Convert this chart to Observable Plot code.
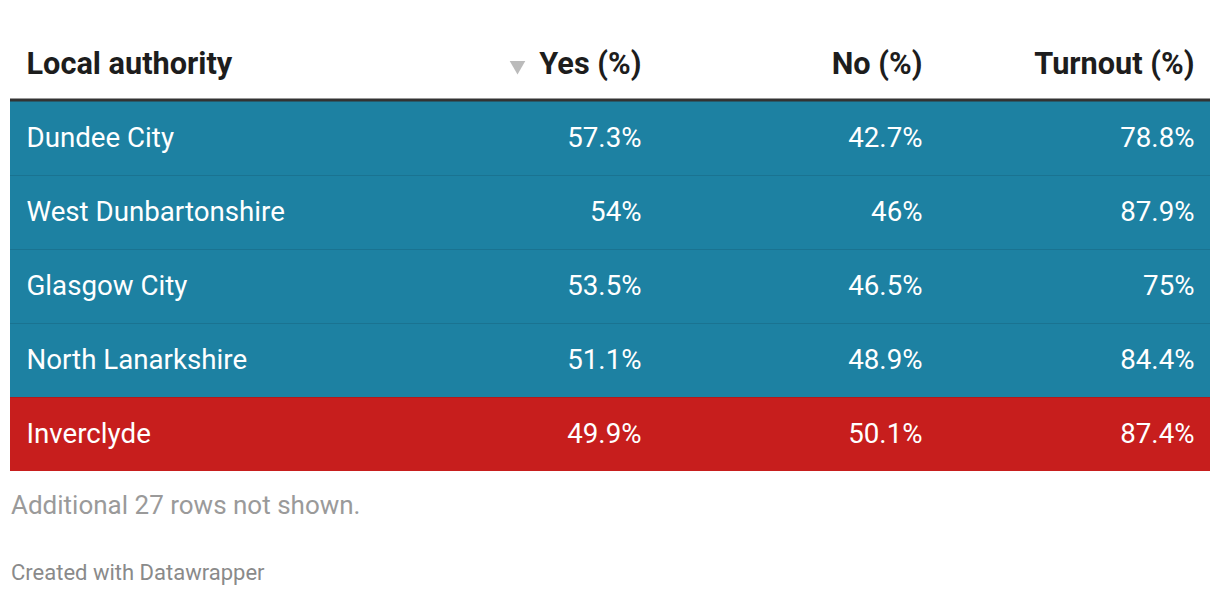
<!DOCTYPE html>
<html>
<head>
<meta charset="utf-8">
<script src="https://cdn.jsdelivr.net/npm/d3@7"></script>
<script src="https://cdn.jsdelivr.net/npm/@observablehq/plot@0.6"></script>
<style>
  html, body { margin: 0; padding: 0; background: #fff; }
  body { width: 1220px; height: 596px; overflow: hidden; font-family: Roboto, "Noto Sans", sans-serif; }
  #chart svg { display: block; }
  .note { padding-left: 11px; color: #9a9a9a; font-size: 26px; line-height: 30px; margin-top: 10px; }
  .credit { padding-left: 11px; color: #8a8a8a; font-size: 22px; line-height: 24px; margin-top: 41px; }
</style>
</head>
<body>
<div id="chart"></div>
<div class="note">Additional 27 rows not shown.</div>
<div class="credit">Created with Datawrapper</div>
<script>
// ---- data ----
const columns = ["Local authority", "Yes (%)", "No (%)", "Turnout (%)"];
const authorities = ["Dundee City", "West Dunbartonshire", "Glasgow City", "North Lanarkshire", "Inverclyde"];
const yesPct = [57.3, 54, 53.5, 51.1, 49.9];
const noPct = [42.7, 46, 46.5, 48.9, 50.1];
const turnoutPct = [78.8, 87.9, 75, 84.4, 87.4];
const highlighted = ["Inverclyde"];
const sortedColumn = "Yes (%)";

// ---- layout (not data) ----
const W = 1220;
const colAnchorX = [26, 641, 922, 1194];   // text anchor per column
const teal = "#1d81a2", red = "#c71e1d";

const rows = authorities.map((name, i) => ({
  idx: i + 1,
  name,
  values: [name, yesPct[i] + "%", noPct[i] + "%", turnoutPct[i] + "%"],
  hi: highlighted.includes(name)
}));

const cells = rows.flatMap(r => r.values.map((v, j) => ({ idx: r.idx, col: j, label: v })));
const header = columns.map((c, j) => ({ idx: 0, col: j, label: c }));
const nBands = rows.length + 1;

const textMarks = (data, opts) => [
  Plot.text(data.filter(d => d.col === 0), {
    x: d => colAnchorX[d.col], y: d => d.idx + 0.5, text: "label", textAnchor: "start", ...opts
  }),
  Plot.text(data.filter(d => d.col !== 0), {
    x: d => colAnchorX[d.col], y: d => d.idx + 0.5, text: "label", textAnchor: "end", ...opts
  })
];

const plot = Plot.plot({
  width: W,
  height: 480,
  margin: 0,
  x: { type: "linear", domain: [0, W], range: [0, W], axis: null },
  y: { type: "linear", domain: [0, nBands], range: [27, 471], axis: null },
  style: { fontFamily: "Roboto, 'Noto Sans', sans-serif" },
  marks: [
    Plot.rect(rows, {
      x1: () => 10, x2: () => 1210,
      y1: d => d.idx, y2: d => d.idx + 1,
      fill: d => d.hi ? red : teal
    }),
    Plot.ruleY(rows.slice(1), {
      y: d => d.idx, x1: () => 10, x2: () => 1210,
      stroke: "#000", strokeOpacity: 0.1, strokeWidth: 1.2
    }),
    Plot.ruleY([1], { x1: () => 10, x2: () => 1210, stroke: "#333", strokeWidth: 3, dy: -1.5 }),
    ...textMarks(header, { fontSize: 30.7, fontWeight: "bold", fill: "#1d1d1d" }),
    Plot.dot(header.filter(d => d.label === sortedColumn), {
      x: d => colAnchorX[d.col], y: d => d.idx + 0.5,
      symbol: "triangle", rotate: 180, r: 5.8, dx: -124, dy: 1,
      fill: "#bbbbbb", stroke: "none"
    }),
    ...textMarks(cells, { fontSize: 27.7, fontWeight: 400, fill: "#ffffff" })
  ]
});
document.getElementById("chart").appendChild(plot);
</script>
</body>
</html>
